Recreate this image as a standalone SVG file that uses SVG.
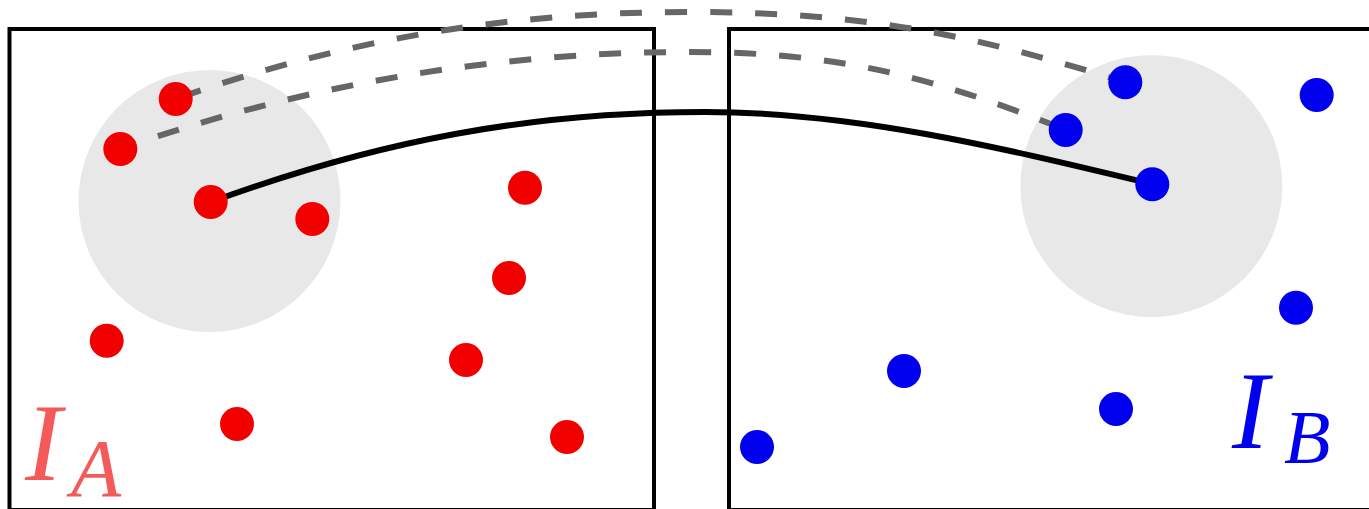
<svg xmlns="http://www.w3.org/2000/svg" width="1369" height="509" viewBox="0 0 1369 509">
<style>
.frame{fill:none;stroke:#000;stroke-width:4}
.zone{fill:#e8e8e8}
.dash{fill:none;stroke:#666;stroke-width:6;stroke-dasharray:22 23}
.solid{fill:none;stroke:#000;stroke-width:6}
.red{fill:#f20000}
.blue{fill:#0000ee}
.lbl{font-family:"Liberation Serif",serif;font-style:italic}
</style>
<rect width="1369" height="509" fill="#fff"/>
<g id="imageA">
<rect class="frame" x="9.5" y="29" width="644.5" height="481"/>
<circle class="zone" cx="209.5" cy="201" r="131"/>
</g>
<g id="imageB">
<rect class="frame" x="729" y="29" width="700" height="481"/>
<circle class="zone" cx="1151.3" cy="186" r="131"/>
</g>
<g id="connectors">
<path class="dash" stroke-dashoffset="40" d="M175,99 C350,38 509,12 690,12 C864,12 974,35 1125,82"/>
<path class="dash" stroke-dashoffset="5" d="M120,149 C300,86 490,52 690,52 C840,52 936,78 1066,130"/>
<path class="solid" d="M211,202 C380,140 532,112 705,112 C855,112 1002,148 1152,184"/>
</g>
<g id="pointsA">
<circle class="red" cx="175.7" cy="99" r="17"/>
<circle class="red" cx="120.3" cy="149" r="17"/>
<circle class="red" cx="210.7" cy="202" r="17"/>
<circle class="red" cx="312.3" cy="219" r="17"/>
<circle class="red" cx="106.7" cy="340.7" r="17"/>
<circle class="red" cx="525" cy="187.7" r="17"/>
<circle class="red" cx="509" cy="278" r="17"/>
<circle class="red" cx="466" cy="360" r="17"/>
<circle class="red" cx="237" cy="424" r="17"/>
<circle class="red" cx="567" cy="437" r="17"/>
</g>
<g id="pointsB">
<circle class="blue" cx="1125.3" cy="82.3" r="17"/>
<circle class="blue" cx="1065.7" cy="130" r="17"/>
<circle class="blue" cx="1152.3" cy="184.3" r="17"/>
<circle class="blue" cx="1316.7" cy="95" r="17"/>
<circle class="blue" cx="1296" cy="307.7" r="17"/>
<circle class="blue" cx="904" cy="371" r="17"/>
<circle class="blue" cx="1116" cy="409" r="17"/>
<circle class="blue" cx="757" cy="447" r="17"/>
</g>
<g id="labelA">
<text class="lbl" fill="#f45a5a"><tspan x="25" y="480" font-size="110">I</tspan><tspan x="71" y="496" font-size="82">A</tspan></text>
</g>
<g id="labelB">
<text class="lbl" fill="#0000ee"><tspan x="1232" y="448" font-size="110">I</tspan><tspan x="1284" y="463" font-size="76">B</tspan></text>
</g>
</svg>
